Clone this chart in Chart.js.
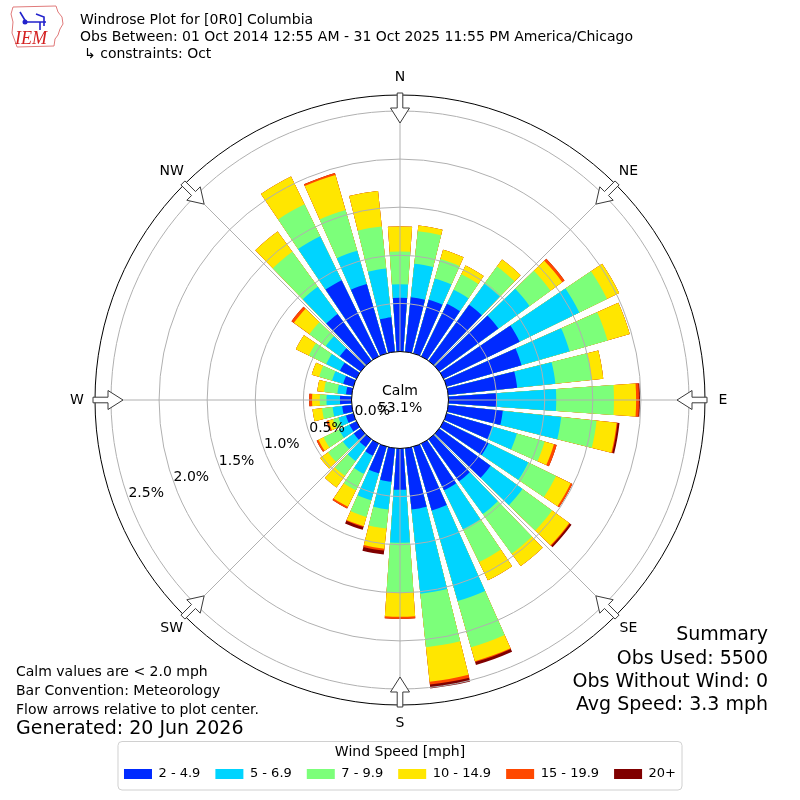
<!DOCTYPE html>
<html>
<head>
<meta charset="utf-8">
<title>Windrose Plot for [0R0] Columbia</title>
<script src="https://cdn.jsdelivr.net/npm/chart.js@4.4.1/dist/chart.umd.min.js"></script>
<style>
  html, body { margin: 0; padding: 0; background: #fff; }
  #wrap { width: 800px; height: 800px; position: relative; }
</style>
</head>
<body>
<div id="wrap"><canvas id="rose"></canvas></div>
<script>
// bar directions, degrees from north (direction the wind blows from)
var directions = [0, 10, 20, 30, 40, 50, 60, 70, 80, 90, 100, 110, 120, 130, 140, 150, 160, 170,
                  180, 190, 200, 210, 220, 230, 240, 250, 260, 270, 280, 290, 300, 310, 320, 330, 340, 350];

var speedBins = ['2 - 4.9', '5 - 6.9', '7 - 9.9', '10 - 14.9', '15 - 19.9', '20+'];
var binColors = ['#002aff', '#00d4ff', '#7cff7a', '#ffe600', '#ff4800', '#800000'];

// frequency in % of all obs, one value per direction
var spd2to5   = [0.56, 0.57, 0.58, 0.61, 0.72, 0.76, 0.88, 0.81, 0.72, 0.50, 0.57, 0.49, 0.52, 0.66, 0.54, 0.54, 0.69, 0.64,
                 0.43, 0.35, 0.29, 0.14, 0.10, 0.09, 0.08, 0.08, 0.10, 0.12, 0.06, 0.11, 0.19, 0.27, 0.60, 0.88, 0.75, 0.36];
var spd5to7   = [0.14, 0.35, 0.23, 0.16, 0.27, 0.40, 0.69, 0.52, 0.40, 0.62, 0.61, 0.27, 0.46, 0.41, 0.42, 0.45, 0.98, 0.88,
                 0.55, 0.29, 0.29, 0.21, 0.18, 0.14, 0.12, 0.08, 0.10, 0.14, 0.09, 0.12, 0.16, 0.18, 0.35, 0.51, 0.36, 0.51];
var spd7to10  = [0.34, 0.34, 0.21, 0.18, 0.22, 0.27, 0.32, 0.41, 0.38, 0.60, 0.37, 0.30, 0.32, 0.38, 0.51, 0.38, 0.50, 0.56,
                 0.52, 0.20, 0.18, 0.19, 0.19, 0.19, 0.18, 0.06, 0.11, 0.07, 0.14, 0.14, 0.20, 0.21, 0.45, 0.37, 0.44, 0.44];
var spd10to15 = [0.26, 0.06, 0.10, 0.10, 0.09, 0.15, 0.14, 0.24, 0.12, 0.23, 0.21, 0.10, 0.17, 0.22, 0.16, 0.21, 0.15, 0.36,
                 0.25, 0.21, 0.10, 0.19, 0.15, 0.10, 0.06, 0.05, 0.10, 0.08, 0.07, 0.08, 0.15, 0.20, 0.26, 0.32, 0.38, 0.37];
var spd15to20 = [0, 0, 0, 0, 0, 0.03, 0, 0, 0, 0.03, 0.01, 0.03, 0.02, 0.01, 0, 0, 0.01, 0.03,
                 0.02, 0.02, 0.01, 0.02, 0, 0, 0.02, 0.02, 0, 0.03, 0, 0, 0, 0.03, 0, 0, 0.02, 0];
var spd20up   = [0, 0, 0, 0, 0, 0, 0, 0, 0, 0.01, 0.02, 0, 0, 0.02, 0, 0, 0.03, 0.04,
                 0, 0.04, 0.03, 0, 0, 0, 0, 0, 0, 0, 0, 0, 0, 0, 0, 0, 0, 0];

var calmPercent = 53.1;
var ringTicks = [0, 0.5, 1.0, 1.5, 2.0, 2.5];
var compassNames = ['N', 'NE', 'E', 'SE', 'S', 'SW', 'W', 'NW'];

var headerLines = ['Windrose Plot for [0R0] Columbia',
                   'Obs Between: 01 Oct 2014 12:55 AM - 31 Oct 2025 11:55 PM America/Chicago',
                   '\u21b3 constraints: Oct'];
var noteLines = ['Calm values are < 2.0 mph', 'Bar Convention: Meteorology', 'Flow arrows relative to plot center.'];
var generatedLine = 'Generated: 20 Jun 2026';
var summaryLines = ['Summary', 'Obs Used: 5500', 'Obs Without Wind: 0', 'Avg Speed: 3.3 mph'];

// radial axis: 0% sits on the calm circle, outer frame a bit past the longest bar
var R_MIN = -0.504;
var R_MAX = 2.666;
var BAR_DEG = 8;   // 80% opening
var GAP_DEG = 2;

var allBins = [spd2to5, spd5to7, spd7to10, spd10to15, spd15to20, spd20up];

// polar area can't stack, so draw running totals on top of each other (dataset 0 ends up on top)
var datasets = speedBins.map(function (name, k) {
  var data = [];
  directions.forEach(function (d, i) {
    var total = 0;
    for (var j = 0; j <= k; j++) total += allBins[j][i];
    data.push(total, 0);   // bar slot, then empty gap slot
  });
  return {
    label: name,
    data: data,
    borderWidth: 0,
    backgroundColor: function (c) { return c.dataIndex % 2 ? 'rgba(0,0,0,0)' : binColors[k]; },
    angle: function (c) { return c.dataIndex % 2 ? GAP_DEG : BAR_DEG; }
  };
});

var slotLabels = [];
directions.forEach(function (d) { slotLabels.push(d + '\u00b0', ''); });

function polarPt(scale, deg, r) {
  var a = deg * Math.PI / 180;
  return { x: scale.xCenter + r * Math.sin(a), y: scale.yCenter - r * Math.cos(a) };
}

function drawArrow(ctx, scale, deg) {
  var shape = [[307, -2.8], [292, -2.8], [292, -9.5], [277, 0], [292, 9.5], [292, 2.8], [307, 2.8]];
  var a = deg * Math.PI / 180;
  var ux = Math.sin(a), uy = -Math.cos(a);   // outward
  var vx = Math.cos(a), vy = Math.sin(a);    // sideways
  ctx.beginPath();
  shape.forEach(function (p, i) {
    var x = scale.xCenter + p[0] * ux + p[1] * vx;
    var y = scale.yCenter + p[0] * uy + p[1] * vy;
    if (i) ctx.lineTo(x, y); else ctx.moveTo(x, y);
  });
  ctx.closePath();
  ctx.fillStyle = '#fff';
  ctx.fill();
  ctx.lineWidth = 1;
  ctx.strokeStyle = '#3a3a3a';
  ctx.stroke();
}

function drawLogo(ctx) {
  var outline = [[13, 7], [56, 6], [58, 12], [62, 17], [63, 24], [60, 29], [58, 35], [55, 39], [54, 46],
                 [17, 47], [15, 41], [12, 33], [13, 22], [11, 14]];
  ctx.save();
  ctx.strokeStyle = '#e07a7a';
  ctx.lineWidth = 1;
  ctx.beginPath();
  outline.forEach(function (p, i) { if (i) ctx.lineTo(p[0], p[1]); else ctx.moveTo(p[0], p[1]); });
  ctx.closePath();
  ctx.stroke();
  ctx.strokeStyle = '#2222cc';
  ctx.fillStyle = '#2222cc';
  ctx.lineWidth = 1.6;
  ctx.beginPath();
  ctx.moveTo(20, 12); ctx.lineTo(26, 22);
  ctx.moveTo(24, 22); ctx.lineTo(46, 22);
  ctx.moveTo(36, 14); ctx.lineTo(44, 17); ctx.lineTo(44, 26);
  ctx.moveTo(40, 22); ctx.lineTo(40, 30);
  ctx.stroke();
  ctx.beginPath(); ctx.arc(25, 22, 2.5, 0, Math.PI * 2); ctx.fill();
  ctx.fillStyle = '#d42020';
  ctx.font = 'italic 18px "Liberation Serif"';
  ctx.textAlign = 'left';
  ctx.textBaseline = 'alphabetic';
  ctx.fillText('IEM', 15, 44);
  ctx.restore();
}

var roseDecor = {
  id: 'roseDecor',
  beforeDraw: function (chart) {
    // legend frame
    var lg = chart.legend;
    if (!lg || !lg.legendHitBoxes) return;
    var left = Infinity, right = -Infinity;
    lg.legendHitBoxes.forEach(function (h) {
      left = Math.min(left, h.left);
      right = Math.max(right, h.left + h.width);
    });
    var ctx = chart.ctx;
    var x0 = left - 6, x1 = right + 6, y0 = lg.top + 0.5, y1 = lg.bottom - 0.5;
    ctx.save();
    ctx.beginPath();
    ctx.roundRect(x0, y0, x1 - x0, y1 - y0, 4);
    ctx.fillStyle = '#fff';
    ctx.fill();
    ctx.strokeStyle = '#d0d0d0';
    ctx.lineWidth = 1;
    ctx.stroke();
    ctx.restore();
  },
  afterDatasetsDraw: function (chart) {
    var ctx = chart.ctx;
    var s = chart.scales.r;
    ctx.save();
    // spokes every 45 degrees
    ctx.strokeStyle = '#b0b0b0';
    ctx.lineWidth = 1;
    for (var d = 0; d < 360; d += 45) {
      var p = polarPt(s, d, s.drawingArea);
      ctx.beginPath();
      ctx.moveTo(s.xCenter, s.yCenter);
      ctx.lineTo(p.x, p.y);
      ctx.stroke();
    }
    // calm circle
    ctx.beginPath();
    ctx.arc(s.xCenter, s.yCenter, s.getDistanceFromCenterForValue(0), 0, Math.PI * 2);
    ctx.fillStyle = '#fff';
    ctx.fill();
    ctx.restore();
  },
  afterDraw: function (chart) {
    var ctx = chart.ctx;
    var s = chart.scales.r;
    ctx.save();
    ctx.fillStyle = '#000';

    ctx.font = '14px "DejaVu Sans"';
    ctx.textAlign = 'center';
    ctx.textBaseline = 'middle';
    ctx.fillText('Calm', s.xCenter, s.yCenter - 9);
    ctx.fillText(calmPercent.toFixed(1) + '%', s.xCenter, s.yCenter + 8);

    // ring labels along the 250 degree bearing
    ctx.textAlign = 'left';
    ctx.textBaseline = 'bottom';
    ringTicks.forEach(function (v) {
      var p = polarPt(s, 250, s.getDistanceFromCenterForValue(v));
      ctx.fillText(v.toFixed(1) + '%', p.x, p.y + 2);
    });

    // compass arrows and names
    compassNames.forEach(function (name, i) {
      var deg = i * 45;
      drawArrow(ctx, s, deg);
      var p = polarPt(s, deg, 323);
      ctx.fillStyle = '#000';
      ctx.textAlign = 'center';
      ctx.textBaseline = 'middle';
      ctx.fillText(name, p.x, p.y);
    });

    // header
    ctx.textAlign = 'left';
    ctx.textBaseline = 'middle';
    ctx.fillText(headerLines[0], 80, 20);
    ctx.fillText(headerLines[1], 80, 37);
    ctx.fillText(headerLines[2], 84, 54);

    // notes bottom left
    ctx.fillText(noteLines[0], 16, 672);
    ctx.fillText(noteLines[1], 16, 691);
    ctx.fillText(noteLines[2], 16, 710);
    ctx.font = '19px "DejaVu Sans"';
    ctx.fillText(generatedLine, 16, 729);

    // summary bottom right
    ctx.textAlign = 'right';
    var sy = [635, 659, 682, 705];
    summaryLines.forEach(function (t, i) { ctx.fillText(t, 768, sy[i]); });

    ctx.restore();
    drawLogo(ctx);
  }
};

Chart.defaults.font.family = '"DejaVu Sans", sans-serif';
Chart.defaults.font.size = 13;
Chart.defaults.color = '#000';

new Chart(document.getElementById('rose'), {
  type: 'polarArea',
  data: { labels: slotLabels, datasets: datasets },
  options: {
    responsive: true,
    maintainAspectRatio: false,
    animation: false,
    events: [],
    layout: { padding: { top: 59, left: 95, right: 95, bottom: 9.5 } },
    scales: {
      r: {
        type: 'radialLinear',
        min: R_MIN,
        max: R_MAX,
        startAngle: -BAR_DEG / 2,
        afterBuildTicks: function (scale) {
          scale.ticks = ringTicks.concat([R_MAX]).map(function (v) { return { value: v }; });
        },
        ticks: { display: false },
        angleLines: { display: false },
        pointLabels: { display: false },
        grid: {
          z: 1,
          circular: true,
          lineWidth: 1,
          color: function (c) {
            var v = c.tick ? c.tick.value : 1;
            return (v <= 0 || v >= R_MAX) ? '#000' : '#b0b0b0';
          }
        }
      }
    },
    plugins: {
      tooltip: { enabled: false },
      legend: {
        position: 'bottom',
        title: {
          display: true,
          text: 'Wind Speed [mph]',
          color: '#000',
          font: { size: 14 },
          padding: { top: 4, bottom: -9.3 }
        },
        labels: {
          boxWidth: 28,
          boxHeight: 10,
          padding: 15,
          color: '#000',
          font: { size: 13 },
          generateLabels: function (chart) {
            return chart.data.datasets.map(function (ds, i) {
              return { text: ds.label, fillStyle: binColors[i], strokeStyle: binColors[i],
                       lineWidth: 0, hidden: false, datasetIndex: i };
            });
          }
        }
      }
    }
  },
  plugins: [roseDecor]
});
</script>
</body>
</html>
